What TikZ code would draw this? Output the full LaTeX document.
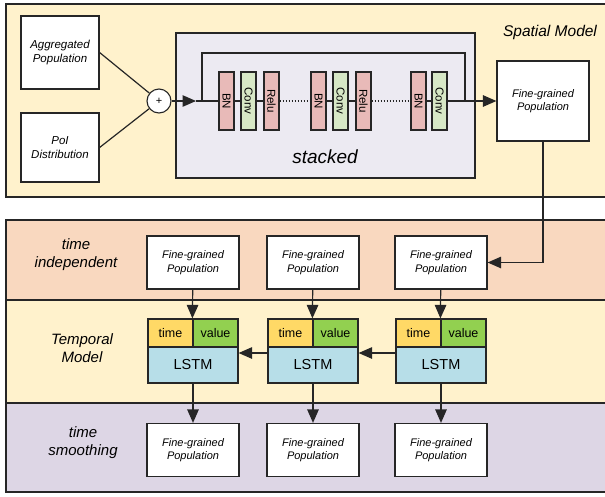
\documentclass[tikz,border=0pt]{standalone}
\usepackage{fontspec}
\setmainfont{Liberation Sans}
\usepackage{xcolor}
\usepackage{tikz}
\usetikzlibrary{arrows.meta,positioning,calc}
\definecolor{paneyellow}{HTML}{FFF2CC}
\definecolor{panepeach}{HTML}{F9D8BF}
\definecolor{panelilac}{HTML}{DDD6E5}
\definecolor{stackfill}{HTML}{ECEAF2}
\definecolor{bnpink}{HTML}{E8BAB8}
\definecolor{convgreen}{HTML}{D7E8C6}
\definecolor{timeyellow}{HTML}{FFD966}
\definecolor{valgreen}{HTML}{92D050}
\definecolor{lstmblue}{HTML}{B7DEE8}
\definecolor{edge}{HTML}{262626}
\tikzset{
  pane/.style={draw=edge, line width=1.4pt},
  box/.style={draw=edge, fill=white, line width=1.2pt, align=center, inner sep=0pt, font=\fontsize{11}{13.5}\selectfont\itshape},
  fgbox/.style={box, minimum width=92pt, minimum height=53pt},
  layer/.style={draw=edge, line width=1.1pt, rotate=-90, minimum width=58pt, minimum height=15pt, inner sep=0pt, font=\fontsize{11.5}{12}\selectfont},
  cell/.style={draw=edge, line width=1.2pt, minimum width=45pt, minimum height=28pt, inner sep=0pt, font=\fontsize{12.5}{13}\selectfont},
  lstmcell/.style={draw=edge, line width=1.2pt, fill=lstmblue, minimum width=90pt, minimum height=36pt, inner sep=0pt, font=\fontsize{14.5}{15}\selectfont},
  lbl/.style={align=center, font=\fontsize{15}{18}\selectfont\itshape},
  link/.style={draw=edge, line width=1.2pt},
  arrow/.style={link, -{Triangle[length=13.5pt,width=11.5pt]}}
}
\begin{document}
\begin{tikzpicture}[x=1pt, y=-1pt]
    \useasboundingbox (0,0) rectangle (605,496);
    % Panels
    \draw[pane, fill=paneyellow] (6,4) rectangle (612,197);
    \draw[pane, fill=panepeach] (6,220) rectangle (612,300);
    \draw[pane, fill=paneyellow] (6,300) rectangle (612,403);
    \draw[pane, fill=panelilac] (6,403) rectangle (612,492);
    \node[lbl, font=\fontsize{15.5}{18}\selectfont\itshape] (spatial) at (550,32) {Spatial Model};
    \node[lbl] (tilbl) at (76,255) {time\\independent};
    \node[lbl] (tmlbl) at (82,348) {Temporal\\Model};
    \node[lbl] (tslbl) at (83,443) {time\\smoothing};
    % Spatial model
    \node[box, minimum width=78pt, minimum height=73pt, font=\fontsize{11.5}{14.5}\selectfont\itshape] (agg) at (60,52.5) {Aggregated\\Population};
    \node[box, minimum width=78pt, minimum height=69pt, font=\fontsize{11.5}{14.5}\selectfont\itshape] (poi) at (60,147.5) {PoI\\Distribution};
    \node[draw=edge, fill=white, line width=1.1pt, circle, minimum size=24pt, inner sep=0pt, font=\fontsize{11}{11}\selectfont] (plus) at (159,101) {+};
    \node[draw=edge, fill=stackfill, line width=1.2pt, minimum width=299pt, minimum height=145pt] (stack) at (325.5,105.5) {};
    \node[font=\fontsize{19}{20}\selectfont\itshape] (stacklbl) at (325,157) {stacked};
    \foreach \n/\x/\t/\c in {bn1/226.5/BN/bnpink, conv1/248.5/Conv/convgreen, relu1/271.5/Relu/bnpink,
                             bn2/318.5/BN/bnpink, conv2/340.5/Conv/convgreen, relu2/363.5/Relu/bnpink,
                             bn3/418.5/BN/bnpink, conv3/439.5/Conv/convgreen}
      \node[layer, fill=\c] (\n) at (\x,101) {\t};
    \node[box, minimum width=92pt, minimum height=80pt] (fgs) at (543,101) {Fine-grained\\Population};
    \coordinate (inarr) at (196,101);
    \coordinate (skipin) at (202,101);
    \coordinate (skiptop) at (333,53);
    \coordinate (skipout) at (465,101);
    \draw[link] (agg.east) -- (plus);
    \draw[link] (poi.east) -- (plus);
    \draw[arrow] (plus) -- (inarr);
    \draw[link] (inarr) -- (bn1) -- (conv1) -- (relu1);
    \draw[link, dash pattern=on 1.5pt off 1.5pt] (relu1) -- (bn2);
    \draw[link] (bn2) -- (conv2) -- (relu2);
    \draw[link, dash pattern=on 1.5pt off 1.5pt] (relu2) -- (bn3);
    \draw[link] (bn3) -- (conv3);
    \draw[link] (skipin) |- (skiptop) -| (skipout);
    \draw[arrow] (conv3) -- (fgs);
    % Temporal model
    \foreach \i/\cx in {1/193, 2/313, 3/441} {
      \node[fgbox] (ti\i) at (\cx,262.5) {Fine-grained\\Population};
      \node[cell, fill=timeyellow] (time\i) at (\cx-22.5,333) {time};
      \node[cell, fill=valgreen] (val\i) at (\cx+22.5,333) {value};
      \node[lstmcell] (lstm\i) at (\cx,365) {LSTM};
      \node[fgbox] (fs\i) at (\cx,450) {Fine-grained\\Population};
      \draw[arrow] (ti\i) -- (val\i.north west);
      \draw[arrow] (lstm\i) -- (fs\i);
    }
    \draw[arrow] ([yshift=12pt]lstm2.west) -- ([yshift=12pt]lstm1.east);
    \draw[arrow] ([yshift=12pt]lstm3.west) -- ([yshift=12pt]lstm2.east);
    \draw[arrow] (fgs.south) |- (ti3.east);
  \end{tikzpicture}
\end{document}
